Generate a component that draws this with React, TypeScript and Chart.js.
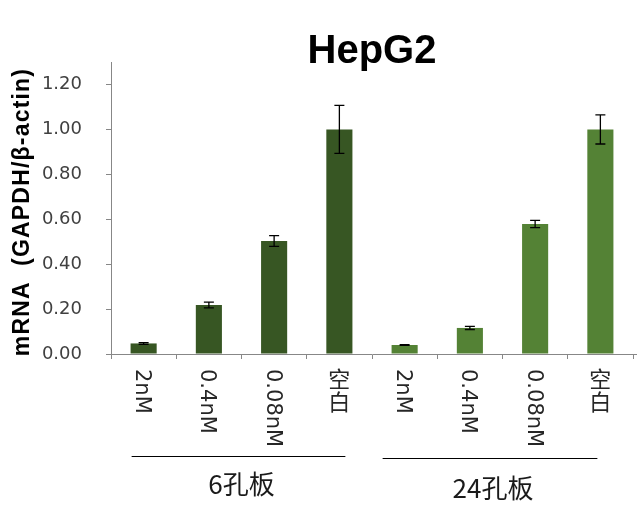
import React, { useEffect, useRef } from 'react';
import { Chart, registerables } from 'chart.js';

Chart.register(...registerables);

const chartTitle = 'HepG2';
const yAxisTitle = 'mRNA  (GAPDH/β-actin)';
const categories = ['2nM', '0.4nM', '0.08nM', '空白', '2nM', '0.4nM', '0.08nM', '空白'];
const groupLabels = ['6孔板', '24孔板'];
const groupRanges = [[0, 3], [4, 7]];
const values6 = [0.047, 0.218, 0.503, 1.0];
const errors6 = [0.004, 0.013, 0.024, 0.107];
const values24 = [0.04, 0.116, 0.579, 1.0];
const errors24 = [0.002, 0.007, 0.016, 0.065];
const yMin = 0;
const yMax = 1.3;
const yStep = 0.2;

const color6 = '#375623';
const color24 = '#548235';
const axisColor = '#878787';

// styling for hand-drawn group brackets
const groupLineStyle = [
  { left: -12, right: 6, y: 456, labelDx: 3, labelY: 484 },
  { left: -22, right: -3, y: 458, labelDx: 3, labelY: 488 },
];

const isCJK = (s: string) => /[\u3400-\u9fff]/.test(s);

const overlayPlugin = {
  id: 'overlay',
  afterDatasetsDraw(chart: any) {
    const ctx = chart.ctx;
    const yScale = chart.scales.y;
    ctx.save();
    ctx.strokeStyle = '#000';
    ctx.lineWidth = 1.3;
    chart.data.datasets.forEach((ds: any, di: number) => {
      const meta = chart.getDatasetMeta(di);
      ds.data.forEach((v: number | null, i: number) => {
        if (v == null) return;
        const e = ds.errors[i];
        const x = meta.data[i].x;
        const yTop = yScale.getPixelForValue(v + e);
        const yBot = yScale.getPixelForValue(v - e);
        ctx.beginPath();
        ctx.moveTo(x, yTop);
        ctx.lineTo(x, yBot);
        ctx.moveTo(x - 5, yTop);
        ctx.lineTo(x + 5, yTop);
        ctx.moveTo(x - 5, yBot);
        ctx.lineTo(x + 5, yBot);
        ctx.stroke();
      });
    });
    ctx.restore();
  },
  afterDraw(chart: any) {
    const ctx = chart.ctx;
    const xScale = chart.scales.x;
    const area = chart.chartArea;
    ctx.save();
    // small extension of the x axis line past the last category
    ctx.strokeStyle = axisColor;
    ctx.lineWidth = 1;
    ctx.beginPath();
    ctx.moveTo(area.right, area.bottom + 0.5);
    ctx.lineTo(area.right + 4, area.bottom + 0.5);
    ctx.stroke();

    // title
    ctx.fillStyle = '#000';
    ctx.font = 'bold 40px "Liberation Sans", Arial, sans-serif';
    ctx.textAlign = 'center';
    ctx.textBaseline = 'alphabetic';
    ctx.fillText(chartTitle, (area.left + area.right) / 2, 63);

    // y-axis title
    ctx.save();
    ctx.translate(23, 212);
    ctx.rotate(-Math.PI / 2);
    ctx.font = 'bold 23px "Liberation Sans", Arial, sans-serif';
    (ctx as any).letterSpacing = '1.2px';
    ctx.textAlign = 'center';
    ctx.textBaseline = 'middle';
    ctx.fillText(yAxisTitle, 0, 0);
    ctx.restore();

    // x tick labels
    ctx.fillStyle = '#262626';
    categories.forEach((label, i) => {
      const x = xScale.getPixelForValue(i);
      if (isCJK(label)) {
        ctx.font = '22px "Noto Sans CJK SC", sans-serif';
        ctx.textAlign = 'center';
        ctx.textBaseline = 'top';
        Array.from(label).forEach((ch, k) => {
          ctx.fillText(ch, x, 368 + k * 23);
        });
      } else {
        ctx.save();
        ctx.font = '21px "DejaVu Sans", sans-serif';
        ctx.translate(x - 7.6, 369);
        ctx.rotate(Math.PI / 2);
        ctx.textAlign = 'left';
        ctx.textBaseline = 'alphabetic';
        ctx.fillText(label, 0, 0);
        ctx.restore();
      }
    });

    // group brackets
    ctx.strokeStyle = '#000';
    ctx.lineWidth = 1;
    ctx.fillStyle = '#1a1a1a';
    ctx.font = '26px "Noto Sans CJK SC", sans-serif';
    ctx.textAlign = 'center';
    ctx.textBaseline = 'middle';
    groupRanges.forEach(([a, b], g) => {
      const st = groupLineStyle[g];
      const x1 = xScale.getPixelForValue(a) + st.left;
      const x2 = xScale.getPixelForValue(b) + st.right;
      ctx.beginPath();
      ctx.moveTo(x1, st.y + 0.5);
      ctx.lineTo(x2, st.y + 0.5);
      ctx.stroke();
      ctx.fillText(groupLabels[g], (x1 + x2) / 2 + st.labelDx, st.labelY);
    });
    ctx.restore();
  },
};

export default function App() {
  const ref = useRef<HTMLCanvasElement | null>(null);
  useEffect(() => {
    if (!ref.current) return;
    const pad = [null, null, null, null];
    const chart = new Chart(ref.current, {
      type: 'bar',
      data: {
        labels: categories,
        datasets: [
          {
            data: [...values6, ...pad],
            errors: [...errors6, ...pad],
            backgroundColor: color6,
            grouped: false,
            barPercentage: 0.4,
            categoryPercentage: 1,
          } as any,
          {
            data: [...pad, ...values24],
            errors: [...pad, ...errors24],
            backgroundColor: color24,
            grouped: false,
            barPercentage: 0.4,
            categoryPercentage: 1,
          } as any,
        ],
      },
      options: {
        responsive: false,
        animation: false,
        devicePixelRatio: 1,
        layout: { padding: { left: 0, top: 62, right: 7, bottom: 0 } },
        plugins: {
          legend: { display: false },
          tooltip: { enabled: false },
          title: { display: false },
        },
        scales: {
          x: {
            grid: {
              display: true,
              drawOnChartArea: false,
              drawTicks: true,
              tickLength: 5,
              color: axisColor,
              offset: true,
            },
            border: { color: axisColor, width: 1 },
            ticks: { display: false },
            afterFit: (s: any) => {
              s.height = 522 - 354;
            },
          },
          y: {
            min: yMin,
            max: yMax,
            ticks: {
              stepSize: yStep,
              includeBounds: false,
              callback: (v: any) => Number(v).toFixed(2),
              font: { family: '"DejaVu Sans", sans-serif', size: 18 },
              color: '#404040',
              padding: 24,
            },
            grid: {
              drawOnChartArea: false,
              drawTicks: true,
              tickLength: 5,
              color: axisColor,
            },
            border: { color: axisColor, width: 1 },
            afterFit: (s: any) => {
              s.width = 111;
            },
          },
        },
      } as any,
      plugins: [overlayPlugin],
    });
    return () => chart.destroy();
  }, []);
  return (
    <div style={{ position: 'absolute', left: 0, top: 0, width: 640, height: 522, background: '#fff' }}>
      <canvas ref={ref} width={640} height={522} style={{ display: 'block' }} />
    </div>
  );
}
